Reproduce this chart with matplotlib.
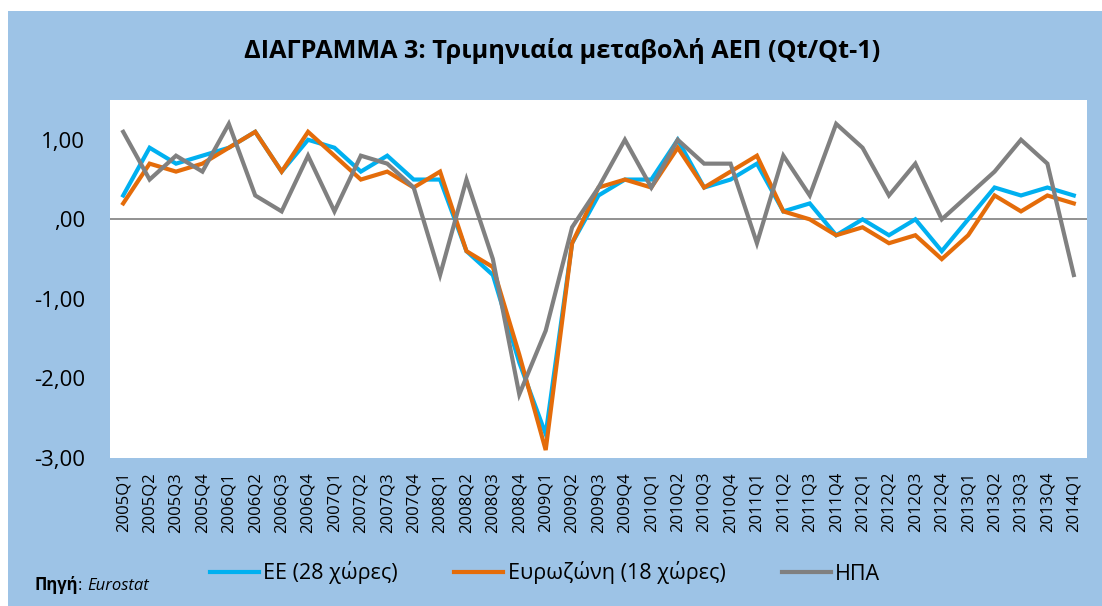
import matplotlib.pyplot as plt
from matplotlib.patches import Rectangle
from matplotlib.ticker import FuncFormatter

plt.rcParams['font.family'] = ['Open Sans', 'DejaVu Sans']

# quarters 2005Q1 .. 2014Q1
quarters = [f"{y}Q{q}" for y in range(2005, 2014) for q in range(1, 5)] + ["2014Q1"]

eu28 = [0.3, 0.9, 0.7, 0.8, 0.9, 1.1, 0.6, 1.0, 0.9, 0.6, 0.8, 0.5,
        0.5, -0.4, -0.7, -1.8, -2.7, -0.3, 0.3, 0.5, 0.5, 1.0, 0.4, 0.5,
        0.7, 0.1, 0.2, -0.2, 0.0, -0.2, 0.0, -0.4, 0.0, 0.4, 0.3, 0.4, 0.3]
ea18 = [0.2, 0.7, 0.6, 0.7, 0.9, 1.1, 0.6, 1.1, 0.8, 0.5, 0.6, 0.4,
        0.6, -0.4, -0.6, -1.7, -2.9, -0.3, 0.4, 0.5, 0.4, 0.9, 0.4, 0.6,
        0.8, 0.1, 0.0, -0.2, -0.1, -0.3, -0.2, -0.5, -0.2, 0.3, 0.1, 0.3, 0.2]
usa = [1.1, 0.5, 0.8, 0.6, 1.2, 0.3, 0.1, 0.8, 0.1, 0.8, 0.7, 0.4,
       -0.7, 0.5, -0.5, -2.2, -1.4, -0.1, 0.4, 1.0, 0.4, 1.0, 0.7, 0.7,
       -0.3, 0.8, 0.3, 1.2, 0.9, 0.3, 0.7, 0.0, 0.3, 0.6, 1.0, 0.7, -0.7]

series_labels = ["ΕΕ (28 χώρες)", "Ευρωζώνη (18 χώρες)", "ΗΠΑ"]
colors = ["#00B0F0", "#E46C0A", "#808080"]

W, H = 1102, 606
bg = "#9DC3E6"
fig = plt.figure(figsize=(W / 100, H / 100), dpi=100, facecolor=bg)

# thin white strips at top and left
fig.patches.append(Rectangle((0, 1 - 11 / H), 1, 11 / H, transform=fig.transFigure,
                             facecolor="white", edgecolor="none"))
fig.patches.append(Rectangle((0, 0), 8 / W, 1, transform=fig.transFigure,
                             facecolor="white", edgecolor="none"))

fig.text(562 / W, 1 - 58 / H, "ΔΙΑΓΡΑΜΜΑ 3: Τριμηνιαία μεταβολή ΑΕΠ (Qt/Qt-1)",
         ha="center", va="baseline", fontsize=18.2, fontweight="bold")

ax = fig.add_axes([110 / W, 1 - 458 / H, 977 / W, 358 / H])
ax.set_facecolor("white")
x = list(range(len(quarters)))
for vals, lab, c in zip([eu28, ea18, usa], series_labels, colors):
    ax.plot(x, vals, color=c, lw=3, label=lab, solid_joinstyle="miter")

ax.axhline(0, color="#7F7F7F", lw=1.2, zorder=0)
ax.set_xlim(-0.5, len(quarters) - 0.5)
ax.set_ylim(-3, 1.5)
ax.set_yticks([-3, -2, -1, 0, 1])
ax.yaxis.set_major_formatter(FuncFormatter(
    lambda v, p: ",00" if v == 0 else f"{v:.2f}".replace(".", ",")))
ax.set_xticks(x)
ax.set_xticklabels(quarters, rotation=90, fontsize=12)
ax.tick_params(axis="x", length=0, pad=10)
ax.tick_params(axis="y", length=0, pad=18, labelsize=16)
for s in ax.spines.values():
    s.set_visible(False)

fig.legend(loc="center", bbox_to_anchor=(545 / W, 1 - 573 / H), ncol=3,
           frameon=False, fontsize=15.5, handlelength=2.3, columnspacing=2.6,
           handletextpad=0.2)

src = fig.text(35 / W, 1 - 590 / H, "Πηγή", fontsize=12, fontweight="bold", va="baseline")
src2 = fig.text(0, 0, ": ", fontsize=12, va="baseline")
fig.canvas.draw()
r = fig.canvas.get_renderer()
bb = src.get_window_extent(r)
src2.set_position((bb.x1 / W, 1 - 590 / H))
bb2 = src2.get_window_extent(r)
fig.text(bb2.x1 / W, 1 - 590 / H, "Eurostat", fontsize=12, style="italic", va="baseline")

fig.savefig("out.png", dpi=100, facecolor=bg)
